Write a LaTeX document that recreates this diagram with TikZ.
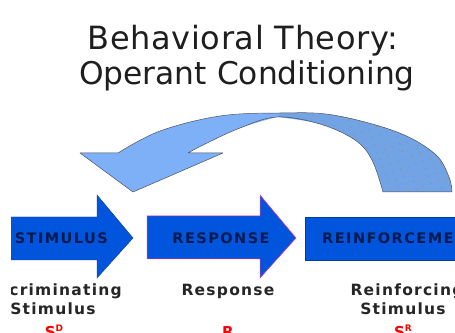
\documentclass[tikz,border=0pt]{standalone}
\usepackage{fontspec}
\setmainfont{DejaVu Sans}
\newfontfamily\labfont[LetterSpace=8]{DejaVu Sans}
\newfontfamily\arrfont[LetterSpace=10]{DejaVu Sans}
\newfontfamily\titlefontA[LetterSpace=2]{DejaVu Sans}
\usetikzlibrary{patterns.meta}
\definecolor{arrowblue}{RGB}{0,85,220}
\definecolor{navy}{RGB}{0,26,77}
\definecolor{lightblue}{RGB}{125,176,246}
\definecolor{backblue}{RGB}{114,163,228}
\definecolor{edgegray}{RGB}{80,80,90}
\definecolor{titlegray}{RGB}{30,30,30}
\tikzset{
  bluearrow/.style={fill=arrowblue, draw=arrowblue!70!black, line width=0.4pt},
  selarrow/.style={fill=arrowblue, draw=magenta!80, line width=0.5pt},
  arrowtext/.style={font=\arrfont\bfseries\fontsize{14.5}{14.5}\selectfont, text=navy, inner sep=0pt},
  labeltext/.style={font=\labfont\bfseries\fontsize{15.5}{15.5}\selectfont, text=black!85, inner sep=0pt, anchor=base},
  redtext/.style={font=\labfont\bfseries\fontsize{15}{15}\selectfont, text=red, inner sep=0pt, anchor=base},
  titletext/.style={text=titlegray, inner sep=0pt, anchor=base},
  curvefront/.style={fill=lightblue},
  curveback/.style={fill=backblue},
  curveedge/.style={draw=edgegray, line width=0.5pt, line join=round}
}
\begin{document}
\begin{tikzpicture}[x=1pt,y=1pt]
\useasboundingbox (0,0) rectangle (455,332);
\fill[white] (0,0) rectangle (455,332);
% title
\node[titletext, font=\titlefontA\fontsize{32}{32}\selectfont] (t1) at (243,282) {Behavioral Theory:};
\node[titletext, font=\fontsize{31.3}{31.3}\selectfont] (t2) at (247,247) {Operant Conditioning};
\begin{scope}
\clip (11,0) rectangle (455,200);
% straight arrows
\draw[bluearrow] (-20,115) -- (97,115) -- (97,137) -- (133,94) -- (97,54) -- (97,72) -- (-20,72) -- cycle;
\draw[selarrow] (147,116) -- (260,116) -- (260,137) -- (296,94) -- (260,54) -- (260,73) -- (147,73) -- cycle;
\draw[bluearrow] (305,115) -- (470,115) -- (470,72) -- (305,72) -- cycle;
\node[arrowtext, anchor=east] (stim) at (108,94) {STIMULUS};
\node[arrowtext] (resp) at (221,94) {RESPONSE};
\node[arrowtext, anchor=west] (reinf) at (322,94) {REINFORCEMENT};
% labels
\node[labeltext] (l1a) at (50,37) {Discriminating};
\node[labeltext] (l1b) at (53,17) {Stimulus};
\node[redtext] (l1c) at (54,-5) {S\raisebox{5pt}{\fontsize{9}{9}\selectfont D}};
\node[labeltext] (l2a) at (228,37) {Response};
\node[redtext] (l2c) at (228,-5) {R};
\node[labeltext] (l3a) at (407,37) {Reinforcing};
\node[labeltext] (l3b) at (403,17) {Stimulus};
\node[redtext] (l3c) at (403,-5) {S\raisebox{5pt}{\fontsize{9}{9}\selectfont R}};
\end{scope}
% curved arrow: back (right) part
\path[curveback] (280,219) -- plot[smooth, tension=0.6] coordinates {(280,219) (333,217) (397,200) (435,178) (449,155) (452,140)}
  -- (383,140) -- plot[smooth, tension=0.6] coordinates {(383,140) (372,172) (355,192) (320,208) (277,215)} -- cycle;
\path[pattern={Dots[distance=8pt, radius=0.6pt, angle=20]}, pattern color=black!45] (280,219) -- plot[smooth, tension=0.6] coordinates {(280,219) (333,217) (397,200) (435,178) (449,155) (452,140)}
  -- (383,140) -- plot[smooth, tension=0.6] coordinates {(383,140) (372,172) (355,192) (320,208) (277,215)} -- cycle;
% curved arrow: front (left) part with head
\path[curvefront] (80,179) -- (118,179) -- plot[smooth, tension=0.6] coordinates {(118,179) (160,201) (220,216) (280,219)}
  -- (277,215) -- plot[smooth, tension=0.6] coordinates {(277,215) (240,204) (205,188) (188,179)}
  -- (223,179) -- (133,140) -- cycle;
% outline
\draw[curveedge] (80,179) -- (118,179) -- plot[smooth, tension=0.6] coordinates {(118,179) (160,201) (220,216) (280,219) (333,217) (397,200) (435,178) (449,155) (452,140)}
  -- (383,140) -- plot[smooth, tension=0.6] coordinates {(383,140) (372,172) (355,192) (320,208) (277,215) (240,204) (205,188) (188,179)}
  -- (223,179) -- (133,140) -- cycle;
\end{tikzpicture}
\end{document}
